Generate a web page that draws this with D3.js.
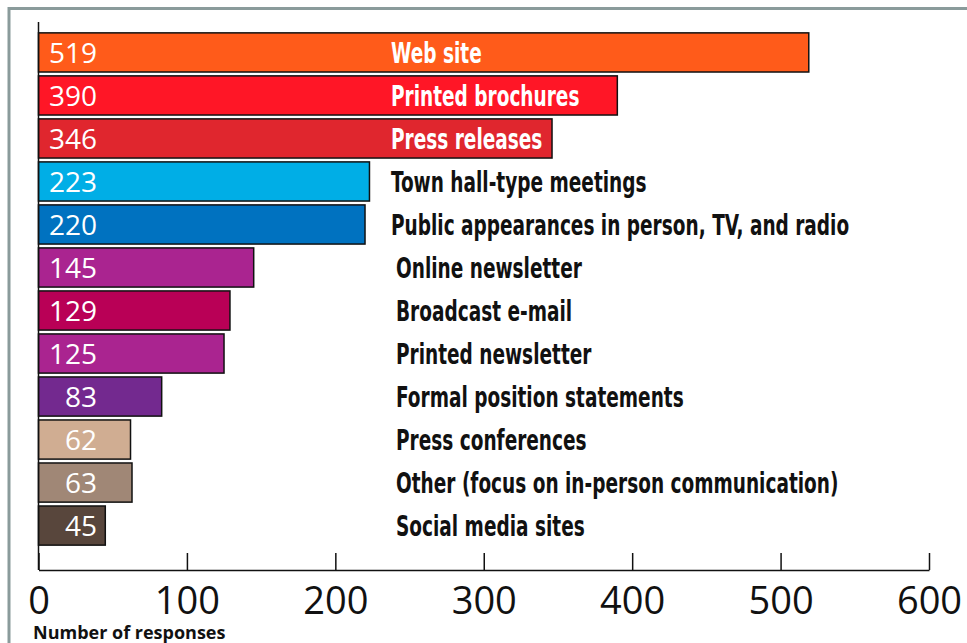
<!DOCTYPE html>
<html>
<head>
<meta charset="utf-8">
<script src="https://cdn.jsdelivr.net/npm/d3@7"></script>
<style>
  body { margin: 0; background: #fff; }
  svg { display: block; }
  .cat { font-family: "Liberation Sans Narrow", "DejaVu Sans Condensed", "DejaVu Sans", sans-serif; font-weight: bold; }
  .val { font-family: "Open Sans", "Noto Sans", sans-serif; fill: #fff; }
  .axis text { font-family: "Open Sans", "Noto Sans", sans-serif; }
</style>
</head>
<body>
<div id="chart"></div>
<script>
// data
var categories = ["Web site", "Printed brochures", "Press releases", "Town hall-type meetings",
  "Public appearances in person, TV, and radio", "Online newsletter", "Broadcast e-mail",
  "Printed newsletter", "Formal position statements", "Press conferences",
  "Other (focus on in-person communication)", "Social media sites"];
var responses = [519, 390, 346, 223, 220, 145, 129, 125, 83, 62, 63, 45];
var barColors = ["#ff5b1a", "#ff1626", "#e0262e", "#00aee6", "#0072c0", "#aa2490",
  "#b90056", "#aa2490", "#73298f", "#d0ad92", "#a08776", "#58463c"];
var xTicks = [0, 100, 200, 300, 400, 500, 600];

var width = 967, height = 643;
var svg = d3.select("#chart").append("svg")
  .attr("width", width)
  .attr("height", height);

// grey frame, top and left
svg.append("path")
  .attr("d", "M9,643 V8.5 H967")
  .attr("fill", "none")
  .attr("stroke", "#8a9b9b")
  .attr("stroke-width", 3);

var x = d3.scaleLinear().domain([0, 600]).range([38.5, 929]);
var y = d3.scaleBand().domain(categories).range([29, 549]).padding(0.09);
var squeeze = 0.71; // no condensed bold font installed, so squash it

var rows = categories.map(function(c, i){
  return {name: c, value: responses[i], color: barColors[i]};
});

var bar = svg.selectAll("g.row")
  .data(rows)
  .enter().append("g")
  .attr("class", "row");

bar.append("rect")
  .attr("x", x(0))
  .attr("y", function(d){ return y(d.name); })
  .attr("width", function(d){ return x(d.value) - x(0); })
  .attr("height", y.bandwidth())
  .attr("fill", function(d){ return d.color; })
  .attr("stroke", "#111")
  .attr("stroke-width", 1.5);

bar.append("text")
  .attr("class", "val")
  .attr("x", 97)
  .attr("y", function(d){ return y(d.name) + y.bandwidth()/2; })
  .attr("dy", "0.36em")
  .attr("text-anchor", "end")
  .style("font-size", "28px")
  .text(function(d){ return d.value; });

var labels = bar.append("text")
  .attr("class", "cat")
  .attr("transform", function(d, i){
    var lx = i < 5 ? 391 : 396;
    return "translate(" + lx + "," + (y(d.name) + y.bandwidth()/2) + ") scale(" + squeeze + ",1)";
  })
  .attr("dy", "0.36em")
  .style("font-size", "29px")
  .text(function(d){ return d.name; });

// white when the label fits inside its bar
labels.attr("fill", function(d, i){
  var lx = i < 5 ? 391 : 396;
  var end = lx + this.getComputedTextLength() * squeeze;
  return end < x(d.value) ? "#fff" : "#111";
});

// axes
svg.append("line")
  .attr("x1", x(0)).attr("x2", x(0))
  .attr("y1", 22).attr("y2", 570)
  .attr("stroke", "#111")
  .attr("stroke-width", 1.5);

var axis = svg.append("g")
  .attr("class", "axis")
  .attr("transform", "translate(0,570)")
  .call(d3.axisBottom(x).tickValues(xTicks).tickSizeInner(-17).tickSizeOuter(0).tickPadding(17));

axis.select(".domain").attr("stroke", "#111").attr("stroke-width", 1.5);
axis.selectAll(".tick line").attr("stroke", "#111").attr("stroke-width", 1.5);
axis.selectAll("text")
  .style("font-size", "38px")
  .attr("fill", "#111");

svg.append("text")
  .attr("x", 33)
  .attr("y", 639)
  .style("font-family", "'Open Sans', sans-serif")
  .style("font-weight", "bold")
  .style("font-size", "18px")
  .attr("fill", "#111")
  .text("Number of responses");
</script>
</body>
</html>
